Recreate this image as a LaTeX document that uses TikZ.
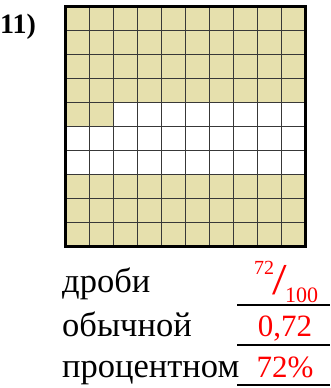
\documentclass[tikz,border=0pt]{standalone}
\usepackage{fontspec}
\setmainfont{Liberation Serif}
\usetikzlibrary{positioning}
\definecolor{cellfill}{RGB}{230,224,173}
\definecolor{answred}{RGB}{255,0,0}

\begin{document}
\begin{tikzpicture}[x=1pt, y=-1pt,
    cellline/.style={draw=black!78, line width=1.5pt},
    frame/.style={draw=black, line width=3.6pt},
    word/.style={anchor=base west, inner sep=0pt, font=\fontsize{34.5}{34.5}\selectfont},
    answer/.style={anchor=base, inner sep=0pt, text=answred, font=\fontsize{31}{31}\selectfont},
    blank/.style={draw=black, line width=1.5pt}
]
\useasboundingbox (0,0) rectangle (330,388);

\def\s{24}
% shaded cells: 4 rows, 2 cells, then 3 rows
\fill[cellfill] (65.5,6.5) rectangle (305.5,102.5);
\fill[cellfill] (65.5,102.5) rectangle (113.5,126.5);
\fill[cellfill] (65.5,174.5) rectangle (305.5,246.5);
\foreach \i in {1,...,9} {
  \draw[cellline] (65.5+\i*\s, 6.5) -- (65.5+\i*\s, 246.5);
  \draw[cellline] (65.5, 6.5+\i*\s) -- (305.5, 6.5+\i*\s);
}
\draw[frame] (65.5,6.5) rectangle (305.5,246.5);

\node[anchor=base west, inner sep=0pt, font=\bfseries\fontsize{28}{28}\selectfont] (num) at (0,33) {11)};

\node[word] (w1) at (62,292) {дроби};
\node[word] (w2) at (62,336.5) {обычной};
\node[word] (w3) at (62,377) {процентном};

% answer lines
\draw[blank] (237,305) -- (330,305);
\draw[blank] (237,345) -- (330,345);
\draw[blank] (237,385) -- (330,385);

\node[answer, font=\fontsize{20}{20}\selectfont] (fnum) at (264,274) {72};
\node[answer, font=\fontsize{42}{42}\selectfont] (fbar) at (280,294.5) {\scalebox{1.25}[1.05]{/}};
\node[answer, font=\fontsize{22}{22}\selectfont] (fden) at (301.5,302) {100};
\node[answer] (dec) at (285,336) {0,72};
\node[answer] (pct) at (285,377) {72\%};
\end{tikzpicture}
\end{document}
